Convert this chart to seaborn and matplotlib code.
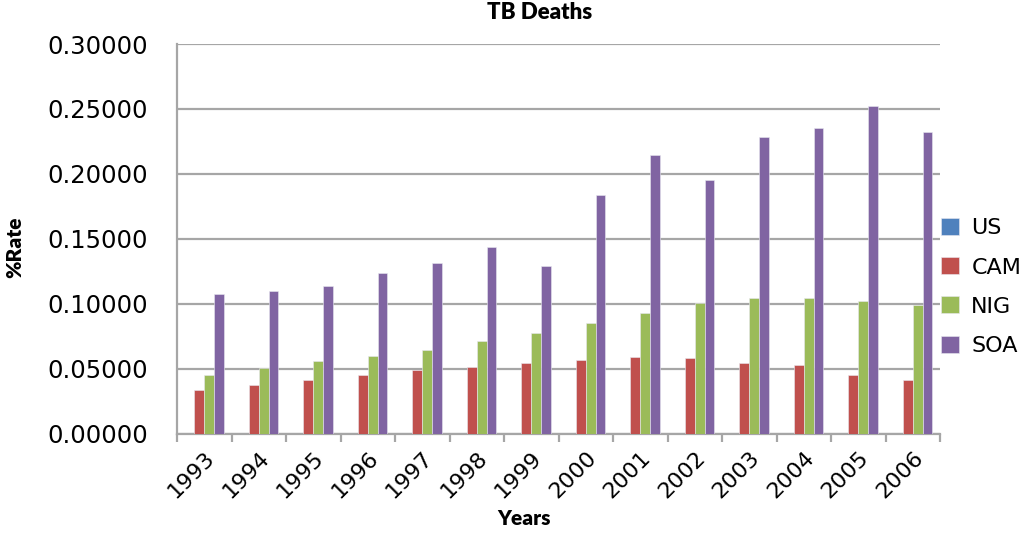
import pandas as pd
import matplotlib
matplotlib.use('Agg')
import matplotlib.pyplot as plt
import numpy as np
import seaborn as sns
from matplotlib.ticker import FixedLocator, FormatStrFormatter

# values (% rate)
years = ['1993', '1994', '1995', '1996', '1997', '1998', '1999',
         '2000', '2001', '2002', '2003', '2004', '2005', '2006']
us = [0.0003, 0.0003, 0.0003, 0.0003, 0.0002, 0.0002, 0.0002,
      0.0002, 0.0002, 0.0002, 0.0002, 0.0002, 0.0002, 0.0002]
cam = [0.0336, 0.0377, 0.0415, 0.0454, 0.0495, 0.0518, 0.0544,
       0.0572, 0.0595, 0.0582, 0.0544, 0.0531, 0.0454, 0.0415]
nig = [0.0454, 0.0505, 0.0559, 0.0598, 0.0649, 0.0713, 0.0775,
       0.0854, 0.0931, 0.1008, 0.1046, 0.1046, 0.1021, 0.0995]
soa = [0.1075, 0.1100, 0.1138, 0.1241, 0.1318, 0.1436, 0.1292,
       0.1836, 0.2144, 0.1951, 0.2287, 0.2351, 0.2521, 0.2326]

countries = ['US', 'CAM', 'NIG', 'SOA']
colors = ['#4F81BD', '#C0504D', '#9BBB59', '#8064A2']

df = pd.DataFrame({'Years': years, 'US': us, 'CAM': cam, 'NIG': nig, 'SOA': soa})
long_df = df.melt(id_vars='Years', var_name='Country', value_name='Rate')

sns.set_style('white')
plt.rcParams['font.family'] = ['DejaVu Sans']
plt.rcParams['text.color'] = 'black'
plt.rcParams['xtick.labelcolor'] = 'black'
plt.rcParams['ytick.labelcolor'] = 'black'

fig = plt.figure(figsize=(10.24, 5.34), dpi=100)
ax = fig.add_axes([0.1729, 0.1873, 0.7451, 0.7303])

sns.barplot(data=long_df, x='Years', y='Rate', hue='Country', hue_order=countries,
            palette=colors, width=0.72, saturation=1, ax=ax, zorder=3,
            edgecolor='#e8e8f0', linewidth=0.4)

ax.set_ylim(0, 0.30)
ax.set_xlim(-0.5, len(years) - 0.5)
ax.set_yticks(np.arange(0, 0.301, 0.05))
ax.yaxis.set_major_formatter(FormatStrFormatter('%.5f'))
ax.yaxis.grid(True, color='#a6a6a6', linewidth=1.6, zorder=0)
ax.set_axisbelow(True)

for s in ['top', 'right']:
    ax.spines[s].set_visible(False)
for s in ['left', 'bottom']:
    ax.spines[s].set_color('#a6a6a6')
    ax.spines[s].set_linewidth(1.6)

# ticks between categories on x, outward ticks on y
ax.xaxis.set_minor_locator(FixedLocator(np.arange(-0.5, len(years), 1.0)))
ax.tick_params(axis='x', which='major', length=0, labelsize=16, pad=10)
ax.tick_params(axis='x', which='minor', bottom=True, length=6, width=1.6,
               color='#a6a6a6', direction='out')
ax.tick_params(axis='y', which='major', length=6, width=1.6, color='#a6a6a6',
               direction='out', labelsize=17.5, pad=15)
plt.setp(ax.get_xticklabels(), rotation=45, ha='right', rotation_mode='anchor')

ax.set_xlabel('')
ax.set_ylabel('')
lab_font = ['Lato', 'DejaVu Sans']
fig.text(0.512, 0.012, 'Years', ha='center', va='bottom', fontsize=15,
         fontweight='heavy', family=lab_font)
fig.text(0.014, 0.537, '%Rate', ha='center', va='center', rotation=90,
         fontsize=15, fontweight='heavy', family=lab_font)
fig.text(0.527, 0.977, 'TB Deaths', ha='center', va='center', fontsize=16,
         fontweight='heavy', family=lab_font)

handles, labels = ax.get_legend_handles_labels()
ax.legend(handles, labels, loc='center left', bbox_to_anchor=(0.99, 0.377),
          frameon=False, fontsize=16, handlelength=0.8, handleheight=0.8,
          handletextpad=0.55, labelspacing=0.85, borderaxespad=0)

fig.savefig('out.png', dpi=100)
